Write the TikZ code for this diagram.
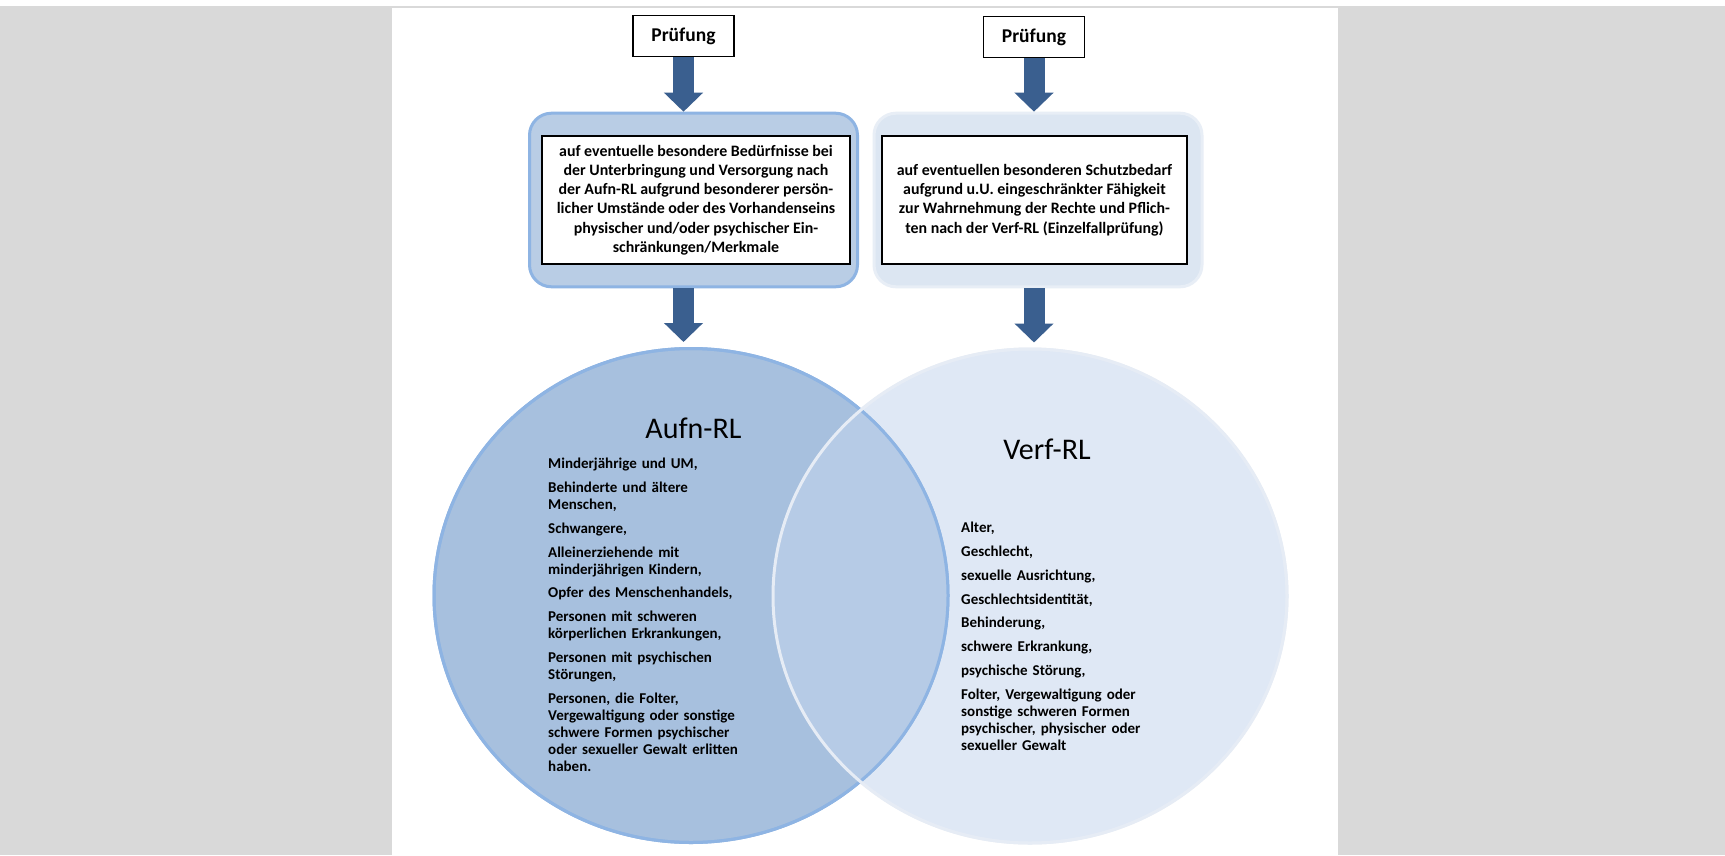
\documentclass[tikz,border=0pt]{standalone}
\usepackage{fontspec}
\setmainfont{Carlito}
\usepackage{tikz}
\usetikzlibrary{positioning}
\usetikzlibrary{shapes.geometric, arrows.meta}

\definecolor{grayback}{HTML}{D9D9D9}
\definecolor{arrowblue}{HTML}{3A5F8F}
\definecolor{needsfill}{HTML}{B9CDE5}
\definecolor{needsline}{HTML}{8EB4E3}
\definecolor{protfill}{HTML}{DCE6F2}
\definecolor{protline}{HTML}{E8EEF6}
\definecolor{aufnfill}{HTML}{A7C0DE}
\definecolor{aufnline}{HTML}{8EB4E3}
\definecolor{verffill}{HTML}{DFE8F5}
\definecolor{verfline}{HTML}{E6ECF5}
\definecolor{overlap}{HTML}{B6CBE6}

\tikzset{
	pruefbox/.style={draw=black, line width=1.2pt, fill=white, minimum width=101pt, minimum height=41.5pt, inner sep=0pt, font=\fontsize{19.5}{22}\selectfont\bfseries},
	outerbox/.style={line width=3pt, rounded corners=22pt, minimum width=328pt, minimum height=173.6pt, inner sep=0pt},
	innerbox/.style={draw=black, line width=1.2pt, fill=white, minimum width=308pt, minimum height=128pt, inner sep=0pt, align=center, font=\fontsize{15.9}{19.2}\selectfont\bfseries},
	venn/.style={ellipse, line width=3pt, minimum width=514pt, minimum height=494pt, inner sep=0pt},
	venntitle/.style={inner sep=0pt, font=\fontsize{30}{36}\selectfont},
	vennlist/.style={inner sep=0pt, text width=220pt, align=left, font=\fontsize{15}{17}\selectfont\bfseries},
	bigarrow/.style={draw=arrowblue, line width=21pt, -{Triangle[width=38pt, length=19pt]}}
}

\begin{document}
\begin{tikzpicture}[x=1pt, y=-1pt]

	\useasboundingbox (0,0) rectangle (1725,855);
	\path[fill=white] (0,0) rectangle (1725,855);
	\path[fill=grayback] (0,6) rectangle (1725,8.3);
	\path[fill=grayback] (0,8.3) rectangle (392,855);
	\path[fill=grayback] (1338,8.3) rectangle (1725,855);

	\node (pruef_1) [pruefbox] at (683.5,36) {Prüfung};
	\node (pruef_2) [pruefbox] at (1034,37) {Prüfung};

	\node (needs_1) [outerbox, fill=needsfill, draw=needsline] at (693.5,200) {};
	\node (needs_2) [outerbox, fill=protfill, draw=protline] at (1038,200) {};

	\node (text_1) [innerbox] at (696,200) {auf eventuelle besondere Bedürfnisse bei\\der Unterbringung und Versorgung nach\\der Aufn-RL aufgrund besonderer persön-\\licher Umstände oder des Vorhandenseins\\physischer und/oder psychischer Ein-\\schränkungen/Merkmale};
	\node (text_2) [innerbox, minimum width=305pt] at (1034.5,200) {auf eventuellen besonderen Schutzbedarf\\aufgrund u.U. eingeschränkter Fähigkeit\\zur Wahrnehmung der Rechte und Pflich-\\ten nach der Verf-RL (Einzelfallprüfung)};

	\node (verf) [venn, fill=verffill, draw=verfline] at (1030,596) {};
	\node (aufn) [venn, fill=aufnfill, draw=aufnline] at (691,595.5) {};

	\begin{scope}
		\clip (aufn.center) ellipse [x radius=257pt, y radius=247pt];
		\path[fill=overlap] (verf.center) ellipse [x radius=257pt, y radius=247pt];
	\end{scope}
	\path[draw=aufnline, line width=3pt] (aufn.center) ellipse [x radius=257pt, y radius=247pt];
	\path[draw=verfline, line width=3pt] (verf.center) ellipse [x radius=257pt, y radius=247pt];

	\path[bigarrow] (pruef_1.south) -- (pruef_1 |- needs_1.north);
	\path[bigarrow] (pruef_2.south) -- (pruef_2 |- needs_2.north);
	\path[bigarrow, shorten >=5pt] (pruef_1 |- needs_1.south) -- (pruef_1 |- aufn.north);
	\path[bigarrow, shorten >=5pt] (pruef_2 |- needs_2.south) -- (pruef_2 |- verf.north);

	\node (aufn_title) [venntitle] at (693.5,428) {Aufn-RL};
	\node (verf_title) [venntitle] at (1047,449) {Verf-RL};

	\node (aufn_list) [vennlist, anchor=north west] at (548,458) {Minderjährige und UM,\\[6.8pt]
		Behinderte und ältere\\Menschen,\\[6.8pt]
		Schwangere,\\[6.8pt]
		Alleinerziehende mit\\minderjährigen Kindern,\\[6.8pt]
		Opfer des Menschenhandels,\\[6.8pt]
		Personen mit schweren\\körperlichen Erkrankungen,\\[6.8pt]
		Personen mit psychischen\\Störungen,\\[6.8pt]
		Personen, die Folter,\\Vergewaltigung oder sonstige\\schwere Formen psychischer\\oder sexueller Gewalt erlitten\\haben.};

	\node (verf_list) [vennlist, anchor=north west] at (961,522) {Alter,\\[6.8pt]
		Geschlecht,\\[6.8pt]
		sexuelle Ausrichtung,\\[6.8pt]
		Geschlechtsidentität,\\[6.8pt]
		Behinderung,\\[6.8pt]
		schwere Erkrankung,\\[6.8pt]
		psychische Störung,\\[6.8pt]
		Folter, Vergewaltigung oder\\sonstige schweren Formen\\psychischer, physischer oder\\sexueller Gewalt};

\end{tikzpicture}
\end{document}
